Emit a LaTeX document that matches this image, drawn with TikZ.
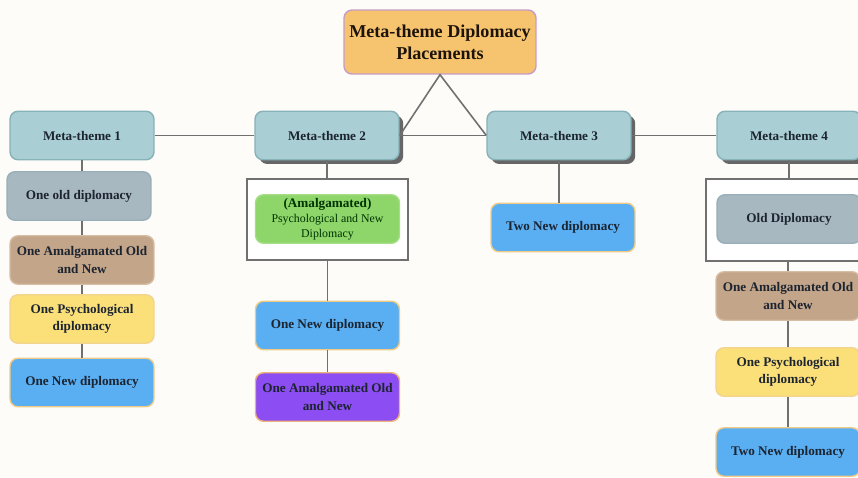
\documentclass[tikz,border=0pt]{standalone}
\usepackage{fontspec}
\setmainfont{Liberation Serif}
\usetikzlibrary{shadows}
\definecolor{bgcol}{HTML}{FDFCF9}
\definecolor{inktext}{HTML}{1C2430}
\definecolor{linecol}{HTML}{707070}
\definecolor{tealfill}{HTML}{A9CED3}
\definecolor{tealline}{HTML}{86B2B8}
\definecolor{topfill}{HTML}{F6C46F}
\definecolor{topline}{HTML}{C79CC6}
\definecolor{grayfill}{HTML}{A8B8C1}
\definecolor{grayline}{HTML}{98AEB8}
\definecolor{brownfill}{HTML}{C3A58A}
\definecolor{brownline}{HTML}{D6BDA3}
\definecolor{yellowfill}{HTML}{FBE07A}
\definecolor{yellowline}{HTML}{F2D48E}
\definecolor{bluefill}{HTML}{5AAFF3}
\definecolor{blueline}{HTML}{EFCB86}
\definecolor{greenfill}{HTML}{8ED56A}
\definecolor{greenline}{HTML}{A6DE88}
\definecolor{purplefill}{HTML}{8C4DF2}
\definecolor{purpleline}{HTML}{EDB37A}

\begin{document}
\begin{tikzpicture}[x=0.02cm,y=-0.02cm,
  box/.style={rounded corners=0.16cm, draw, line width=0.8pt,
    minimum width=2.88cm, minimum height=0.97cm, inner sep=1pt,
    align=center, text=inktext, font=\bfseries\fontsize{7.5}{10}\selectfont},
  mtheme/.style={box, fill=tealfill, draw=tealline},
  shadowed/.style={drop shadow={shadow xshift=2.4pt, shadow yshift=-2.4pt,
    fill=black!60, opacity=1}},
  oldbox/.style={box, fill=grayfill, draw=grayline},
  amalbox/.style={box, fill=brownfill, draw=brownline},
  psybox/.style={box, fill=yellowfill, draw=yellowline},
  newbox/.style={box, fill=bluefill, draw=blueline},
  groupbox/.style={draw=linecol, line width=0.7pt, fill=white, inner sep=0pt},
  link/.style={draw=linecol, line width=0.9pt}]

  % page and clip
  \path[use as bounding box, fill=bgcol] (0,0) rectangle (858,477);
  \clip (0,0) rectangle (858,477);

  % title
  \node[box, fill=topfill, draw=topline, minimum width=3.84cm, minimum height=1.28cm,
        text=black!85!brown, font=\bfseries\fontsize{10.3}{12.6}\selectfont] (top) at (440,42)
       {Meta-theme Diplomacy\\Placements};

  % meta-themes
  \node[mtheme] (mt1) at (82,135.5) {Meta-theme 1};
  \node[mtheme, shadowed] (mt2) at (327,135.5) {Meta-theme 2};
  \node[mtheme, shadowed] (mt3) at (559,135.5) {Meta-theme 3};
  \node[mtheme, shadowed] (mt4) at (789,135.5) {Meta-theme 4};

  % links between meta-themes and the triangle
  \path[link] (mt1.east) -- (mt2.west);
  \path[link] (mt2.east) -- (mt3.west);
  \path[link] (mt3.east) -- (mt4.west);
  \path[link] (mt2.east) -- (top.south) -- (mt3.west);

  % column 1
  \node[oldbox] (c1a) at (79,196) {One old diplomacy};
  \node[amalbox] (c1b) at (82,260) {One Amalgamated Old\\and New};
  \node[psybox] (c1c) at (82,319) {One Psychological\\diplomacy};
  \node[newbox] (c1d) at (82,382.5) {One New diplomacy};
  \path[link] (mt1.south) -- (mt1.south |- c1a.north);
  \path[link] (c1b.north |- c1a.south) -- (c1b.north);
  \path[link] (c1b) -- (c1c);
  \path[link] (c1c) -- (c1d);

  % column 2
  \node[groupbox, minimum width=3.22cm, minimum height=1.62cm] (g2) at (327.5,219.5) {};
  \node[box, fill=greenfill, draw=greenline, inner sep=0pt, text=black!80!green] (c2a) at (327.5,219)
       {(Amalgamated)\\[-1.5pt]{\mdseries\fontsize{6.75}{8}\selectfont Psychological and New}\\[-1.5pt]
        {\mdseries\fontsize{6.75}{8}\selectfont Diplomacy}};
  \node[newbox] (c2b) at (327.5,325.5) {One New diplomacy};
  \node[box, fill=purplefill, draw=purpleline] (c2c) at (327.5,397) {One Amalgamated Old\\and New};
  \path[link] (mt2.south) -- (mt2.south |- g2.north);
  \path[link] (g2.south) -- (c2b.north);
  \path[link] (c2b) -- (c2c);

  % column 3
  \node[newbox] (c3a) at (563,227.5) {Two New diplomacy};
  \path[link] (mt3.south) -- (mt3.south |- c3a.north);

  % column 4
  \node[groupbox, minimum width=3.32cm, minimum height=1.64cm] (g4) at (789,220) {};
  \node[oldbox] (c4a) at (789,219) {Old Diplomacy};
  \node[amalbox] (c4b) at (788,296) {One Amalgamated Old\\and New};
  \node[psybox] (c4c) at (788,372) {One Psychological\\diplomacy};
  \node[newbox] (c4d) at (788,452) {Two New diplomacy};
  \path[link] (mt4.south) -- (mt4.south |- g4.north);
  \path[link] (c4b.north |- g4.south) -- (c4b.north);
  \path[link] (c4b) -- (c4c);
  \path[link] (c4c) -- (c4d);

\end{tikzpicture}
\end{document}
